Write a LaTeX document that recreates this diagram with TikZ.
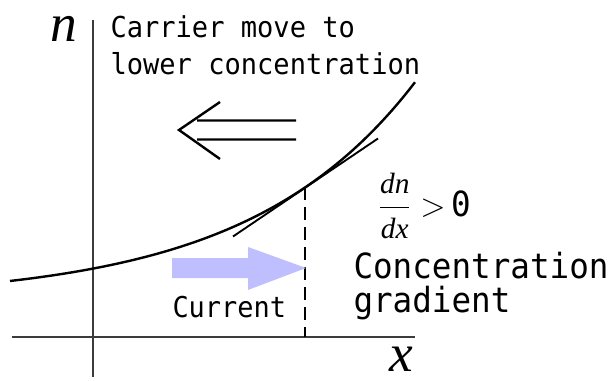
\documentclass[tikz,border=0pt]{standalone}
\usepackage{fontspec}
\newfontfamily\gothic[FakeStretch=0.94]{DejaVu Sans Mono}
\newfontfamily\timesit[ItalicFont={Liberation Serif Italic}]{Liberation Serif}
\begin{document}
\tikzset{every picture/.style={line width=0.75pt}}

\begin{tikzpicture}[x=0.75pt,y=0.75pt,yscale=-1,xscale=1]
\useasboundingbox (0,0) rectangle (614,381);

%Shape: Axis 2D
\draw  [color={rgb, 255:red, 60; green, 60; blue, 60 }  ,draw opacity=1 ][line width=1.6]  (12,337) -- (415,337)(93,20) -- (93,377) ;
%Shape: Curve n(x)
\draw  [line width=1.8]  plot [domain=10:415, samples=80, smooth] (\x, {337-36.8-18.1*exp(0.006*\x)}) ;
%Straight Lines: tangent
\draw  [line width=1.4]  (233,236.5) -- (378,138.5) ;
%Straight Lines: dashed
\draw  [line width=1.8][dash pattern={on 10pt off 5pt}]  (305,187) -- (305,337) ;
%Shape: Double arrow
\draw  [line width=1.8]  (197,120.5) -- (296,120.5) (197,139.5) -- (296,139.5) (220,102) -- (179,130) -- (220,159) ;
%Shape: Right Arrow
\draw  [draw=none][fill={rgb, 255:red, 191; green, 191; blue, 255 }  ,fill opacity=1 ]  (172,258) -- (248,258) -- (248,247) -- (306,268) -- (248,290) -- (248,278) -- (172,278) -- cycle ;

% Text Node
\draw (50,42) node (nlabel) [anchor=base west][inner sep=0pt]  [font=\timesit\itshape\fontsize{40}{44}\selectfont]  {n};
% Text Node
\draw (389,371) node (xlabel) [anchor=base west][inner sep=0pt]  [font=\timesit\itshape\fontsize{40}{44}\selectfont]  {x};
% Text Node
\draw (110,75) node (carrier) [anchor=base west][inner sep=0pt]  [font=\gothic\fontsize{21.6}{27.75}\selectfont,align=left]  {Carrier move to\\lower concentration};
% Text Node
\draw (172,317) node (current) [anchor=base west][inner sep=0pt]  [font=\gothic\fontsize{21.5}{24}\selectfont]  {Current};
% Text Node
\draw (353,312) node (gradient) [anchor=base west][inner sep=0pt]  [font=\gothic\fontsize{26}{25.5}\selectfont,align=left]  {Concentration\\gradient};
% Text Node
\draw (378,216) node (slope) [anchor=base west][inner sep=0pt]  [font=\fontsize{24.88}{28}\selectfont]  {$\displaystyle\frac{\hbox{\timesit\itshape\fontsize{22}{24}\selectfont dn}}{\hbox{\timesit\itshape\fontsize{22}{24}\selectfont dx}}>$\,{\gothic\fontsize{26}{28}\selectfont 0}};

\end{tikzpicture}
\end{document}
